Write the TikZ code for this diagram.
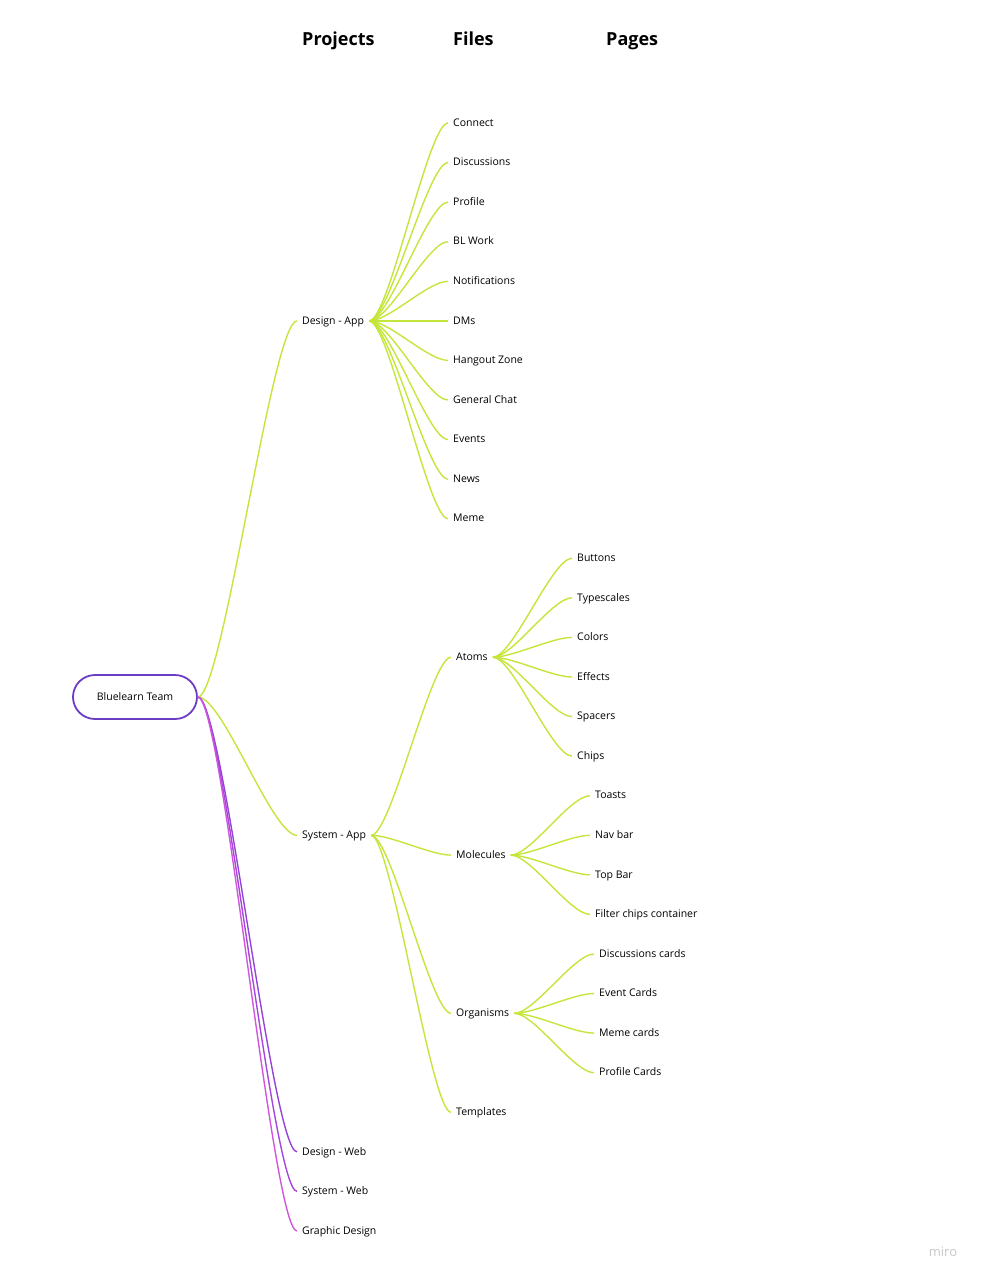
\documentclass[tikz,border=0pt]{standalone}
\usepackage{fontspec}
\setmainfont{Open Sans}
\definecolor{limeline}{HTML}{C4E63A}
\definecolor{rootpurple}{HTML}{6B3CC6}
\definecolor{webpurple}{HTML}{9543D8}
\definecolor{sysweb}{HTML}{A646DA}
\definecolor{graphicpink}{HTML}{D056DC}
\begin{document}
\begin{tikzpicture}[x=1pt, y=-1pt,
  head/.style={anchor=west, inner sep=0pt, text height=1.5ex, text depth=.3ex, font=\fontsize{18}{21}\selectfont\bfseries},
  leaf/.style={anchor=west, inner xsep=5pt, inner ysep=2pt, text height=1.5ex, text depth=.3ex, font=\fontsize{10.5}{12}\selectfont},
  root/.style={draw=rootpurple, line width=1.8pt, rounded corners=22pt, minimum width=124pt, minimum height=44pt, font=\fontsize{10.5}{12}\selectfont},
  branch/.style={line width=1.4pt, to path={.. controls +(#1,0) and +(-#1,0) .. (\tikztotarget)}},
  branch/.default=20]
\useasboundingbox (0,0) rectangle (982,1280);
% column heads
\node[head] (projects) at (302,42) {Projects};
\node[head] (files) at (453,42) {Files};
\node[head] (pages) at (606,42) {Pages};
% root and projects
\node[root] (team) at (135,697) {Bluelearn Team};
\node[leaf] (da) at (297,320.9) {Design - App};
\node[leaf] (sa) at (297,835.3) {System - App};
\node[leaf] (dw) at (297,1151.8) {Design - Web};
\node[leaf] (sw) at (297,1191.4) {System - Web};
\node[leaf] (gd) at (297,1231) {Graphic Design};
% files of Design - App
\node[leaf] (connect) at (448,123) {Connect};
\node[leaf] (discussions) at (448,162.6) {Discussions};
\node[leaf] (profile) at (448,202.1) {Profile};
\node[leaf] (blwork) at (448,241.7) {BL Work};
\node[leaf] (notifications) at (448,281.3) {Notifications};
\node[leaf] (dms) at (448,320.9) {DMs};
\node[leaf] (hangout) at (448,360.4) {Hangout Zone};
\node[leaf] (chat) at (448,400) {General Chat};
\node[leaf] (events) at (448,439.6) {Events};
\node[leaf] (news) at (448,479.1) {News};
\node[leaf] (meme) at (448,518.7) {Meme};
% files of System - App
\node[leaf] (atoms) at (451,657.2) {Atoms};
\node[leaf] (molecules) at (451,855.1) {Molecules};
\node[leaf] (organisms) at (451,1013.3) {Organisms};
\node[leaf] (templates) at (451,1112.3) {Templates};
% pages
\node[leaf] (buttons) at (572,558.3) {Buttons};
\node[leaf] (typescales) at (572,597.8) {Typescales};
\node[leaf] (colors) at (572,637.4) {Colors};
\node[leaf] (effects) at (572,677) {Effects};
\node[leaf] (spacers) at (572,716.6) {Spacers};
\node[leaf] (chips) at (572,756.1) {Chips};
\node[leaf] (toasts) at (590,795.7) {Toasts};
\node[leaf] (navbar) at (590,835.3) {Nav bar};
\node[leaf] (topbar) at (590,874.8) {Top Bar};
\node[leaf] (filterchips) at (590,914.4) {Filter chips container};
\node[leaf] (disccards) at (594,954) {Discussions cards};
\node[leaf] (eventcards) at (594,993.5) {Event Cards};
\node[leaf] (memecards) at (594,1033.1) {Meme cards};
\node[leaf] (profilecards) at (594,1072.7) {Profile Cards};
\node[text=black!22, font=\fontsize{13}{15}\selectfont] (miro) at (943,1252) {miro};
% connectors
\draw[branch=25, limeline] (team.east) to (da.west);
\draw[branch=25, limeline] (team.east) to (sa.west);
\draw[branch=25, webpurple] (team.east) to (dw.west);
\draw[branch=25, sysweb] (team.east) to (sw.west);
\draw[branch=25, graphicpink] (team.east) to (gd.west);
\draw[branch, limeline] (da.east) to (connect.west);
\draw[branch, limeline] (da.east) to (discussions.west);
\draw[branch, limeline] (da.east) to (profile.west);
\draw[branch, limeline] (da.east) to (blwork.west);
\draw[branch, limeline] (da.east) to (notifications.west);
\draw[branch, limeline] (da.east) to (dms.west);
\draw[branch, limeline] (da.east) to (hangout.west);
\draw[branch, limeline] (da.east) to (chat.west);
\draw[branch, limeline] (da.east) to (events.west);
\draw[branch, limeline] (da.east) to (news.west);
\draw[branch, limeline] (da.east) to (meme.west);
\draw[branch, limeline] (sa.east) to (atoms.west);
\draw[branch, limeline] (sa.east) to (molecules.west);
\draw[branch, limeline] (sa.east) to (organisms.west);
\draw[branch, limeline] (sa.east) to (templates.west);
\draw[branch, limeline] (atoms.east) to (buttons.west);
\draw[branch, limeline] (atoms.east) to (typescales.west);
\draw[branch, limeline] (atoms.east) to (colors.west);
\draw[branch, limeline] (atoms.east) to (effects.west);
\draw[branch, limeline] (atoms.east) to (spacers.west);
\draw[branch, limeline] (atoms.east) to (chips.west);
\draw[branch, limeline] (molecules.east) to (toasts.west);
\draw[branch, limeline] (molecules.east) to (navbar.west);
\draw[branch, limeline] (molecules.east) to (topbar.west);
\draw[branch, limeline] (molecules.east) to (filterchips.west);
\draw[branch, limeline] (organisms.east) to (disccards.west);
\draw[branch, limeline] (organisms.east) to (eventcards.west);
\draw[branch, limeline] (organisms.east) to (memecards.west);
\draw[branch, limeline] (organisms.east) to (profilecards.west);
\end{tikzpicture}
\end{document}
